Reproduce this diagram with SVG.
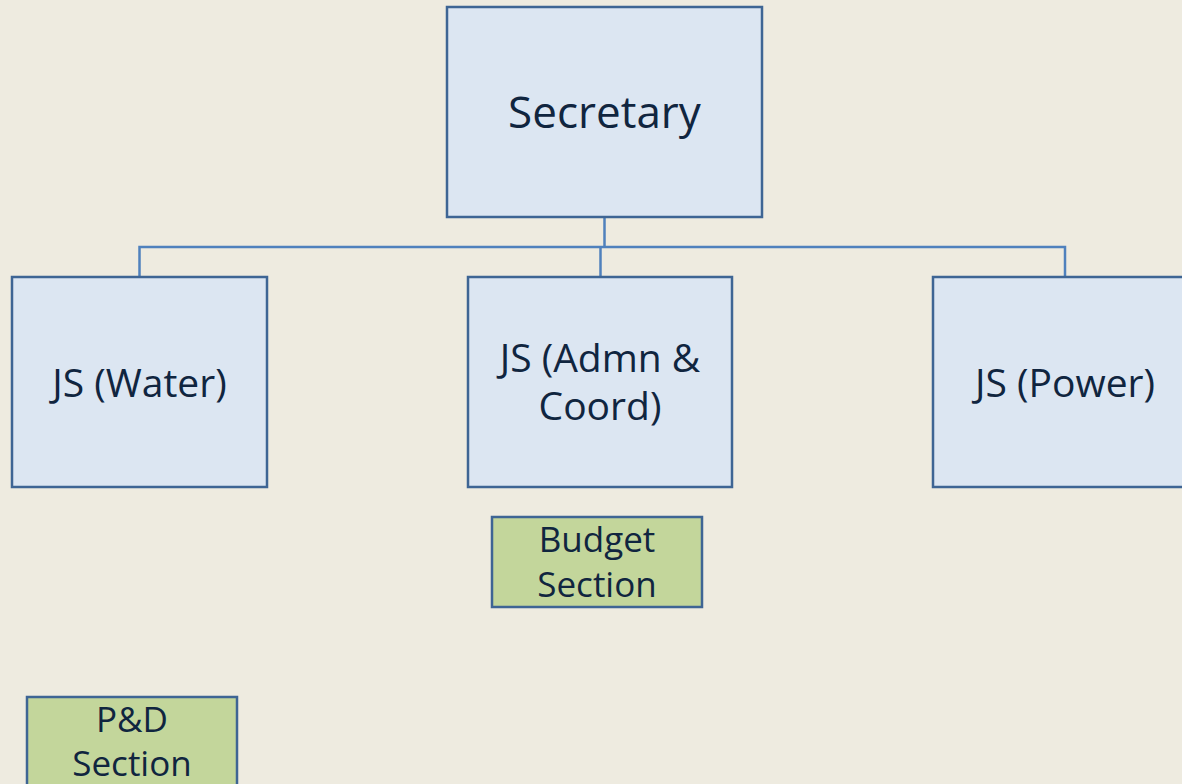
<svg xmlns="http://www.w3.org/2000/svg" width="1182" height="784" viewBox="0 0 1182 784">
<style>
.box{fill:#DCE6F2;stroke:#3E6594;stroke-width:2.5}
.green{fill:#C3D69B;stroke:#3E6594;stroke-width:2.5}
.conn{fill:none;stroke:#4F81BD;stroke-width:2.5}
text{font-family:"Open Sans","Noto Sans",sans-serif;fill:#10253F;text-anchor:middle}
.big{font-size:44px}
.mid{font-size:39px}
.sm{font-size:35px}
</style>
<rect width="1182" height="784" fill="#EEEBE0"/>
<g id="connectors">
<path class="conn" d="M604.5 217V247"/>
<path class="conn" d="M139.5 277V247H1065V277"/>
<path class="conn" d="M600.5 247V277"/>
</g>
<g id="secretary">
<rect class="box" x="447" y="7" width="315" height="210"/>
<text class="big" x="604.5" y="128">Secretary</text>
</g>
<g id="js-water">
<rect class="box" x="12" y="277" width="255" height="210"/>
<text class="mid" x="139.5" y="397">JS (Water)</text>
</g>
<g id="js-admn">
<rect class="box" x="468" y="277" width="264" height="210"/>
<text class="mid" x="600" y="372">JS (Admn &amp;</text>
<text class="mid" x="600" y="420">Coord)</text>
</g>
<g id="js-power">
<rect class="box" x="933" y="277" width="260" height="210"/>
<text class="mid" x="1065" y="397">JS (Power)</text>
</g>
<g id="budget">
<rect class="green" x="492" y="517" width="210" height="90"/>
<text class="sm" x="597" y="552">Budget</text>
<text class="sm" x="597" y="597">Section</text>
</g>
<g id="pd">
<rect class="green" x="27" y="697" width="210" height="100"/>
<text class="sm" x="132" y="732">P&amp;D</text>
<text class="sm" x="132" y="776">Section</text>
</g>
</svg>
